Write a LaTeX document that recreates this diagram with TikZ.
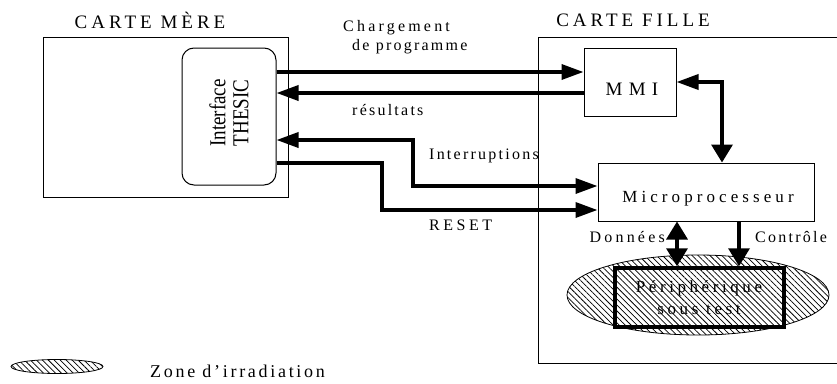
\documentclass[tikz,border=0pt]{standalone}
\usepackage{fontspec}
\setmainfont{Liberation Serif}
\usetikzlibrary{arrows.meta,patterns.meta,shapes.geometric}
\begin{document}
\begin{tikzpicture}[x=1pt,y=-1pt,
  ht/.tip={Triangle[length=22pt,width=15pt]},
  vt/.tip={Triangle[length=18pt,width=21pt]},
  frame/.style={draw, line width=1pt, inner sep=0pt},
  bus/.style={line width=3.5pt},
  hatch/.style={pattern={Lines[angle=-45,distance=4.2pt,line width=0.75pt]}},
  head/.style={font=\fontsize{19}{21}\selectfont\addfontfeature{LetterSpace=21}, inner sep=0pt},
  lab/.style={font=\fontsize{16}{18}\selectfont\addfontfeature{LetterSpace=#1}, inner sep=0pt, anchor=west},
  lab/.default=14,
  ]
\useasboundingbox (0,0) rectangle (837,383);
% frames
\node[frame, minimum width=245, minimum height=160] (mere) at (165.5,117) {};
\node[frame, minimum width=340, minimum height=326] (fille) at (708,200) {};
\node[head] (tmere) at (150,20) {CARTE MÈRE};
\node[head] (tfille) at (633,20) {CARTE FILLE};
% interface
\node[frame, rounded corners=12pt, minimum width=94, minimum height=137] (interface) at (229,116.5) {};
\node[rotate=90, align=center, inner sep=0pt, font=\fontsize{19}{23}\selectfont] (tint) at (229,113)
  {\scalebox{1}[1.2]{Interface}\\\scalebox{1}[1.2]{THESIC}};
% daughter blocks
\node[frame, minimum width=92, minimum height=68] (mmi) at (630,82) {};
\node[inner sep=0pt, font=\fontsize{19}{21}\selectfont\addfontfeature{LetterSpace=33}] (tmmi) at (632,89) {MMI};
\node[frame, minimum width=216, minimum height=58] (micro) at (706,192) {};
\node[inner sep=0pt, font=\fontsize{17}{19}\selectfont\addfontfeature{LetterSpace=24}] (tmicro) at (708,199) {Microprocesseur};
\node[ellipse, draw, line width=0.8pt, hatch, minimum width=262, minimum height=80, inner sep=0pt] (zone) at (698,295) {};
\node[draw, line width=3.5pt, minimum width=169, minimum height=59, inner sep=0pt] (periph) at (699.5,297.5) {};
\node[align=center, inner sep=0pt, font=\fontsize{17}{22}\selectfont\addfontfeature{LetterSpace=21}] (tperiph) at (699,298) {Périphérique\\sous test};
% coordinates
\coordinate (c1) at (0,72);
\coordinate (c2) at (0,93);
\coordinate (c3) at (0,140);
\coordinate (c4) at (0,163);
\coordinate (k3) at (413,186);
\coordinate (k4) at (382,210);
\coordinate (mx) at (722,0);
\coordinate (dx) at (677,0);
\coordinate (cx) at (739,0);
% connectors
\draw[bus,-ht] (interface.east |- c1) -- (mmi.west |- c1);
\draw[bus,-ht] (mmi.west |- c2) -- (interface.east |- c2);
\draw[bus,ht-ht] (interface.east |- c3) -| (k3) -- (micro.west |- k3);
\draw[bus,-ht] (interface.east |- c4) -| (k4) -- (micro.west |- k4);
\draw[bus,ht-vt] (mmi.east) -| (mx |- micro.north);
\draw[bus,vt-vt] (dx |- micro.south) -- (dx |- periph.north);
\draw[bus,-vt] (cx |- micro.south) -- (cx |- periph.north);
% labels
\node[lab=20] (l1) at (343,28) {Chargement};
\node[lab] (l2) at (352,47) {de programme};
\node[lab] (l3) at (352,110) {résultats};
\node[lab] (l4) at (429,156) {Interruptions};
\node[lab=22] (l5) at (429,225) {RESET};
\node[lab=20, anchor=east] (l6) at (665,237) {Données};
\node[lab] (l7) at (755,237) {Contrôle};
% legend
\node[ellipse, draw, line width=0.8pt, hatch, minimum width=92, minimum height=14, inner sep=0pt] (leg) at (57,366.5) {};
\node[inner sep=0pt, anchor=west, font=\fontsize{18}{20}\selectfont\addfontfeature{LetterSpace=15}] (tleg) at (150,371) {Zone d’irradiation};
\end{tikzpicture}
\end{document}
